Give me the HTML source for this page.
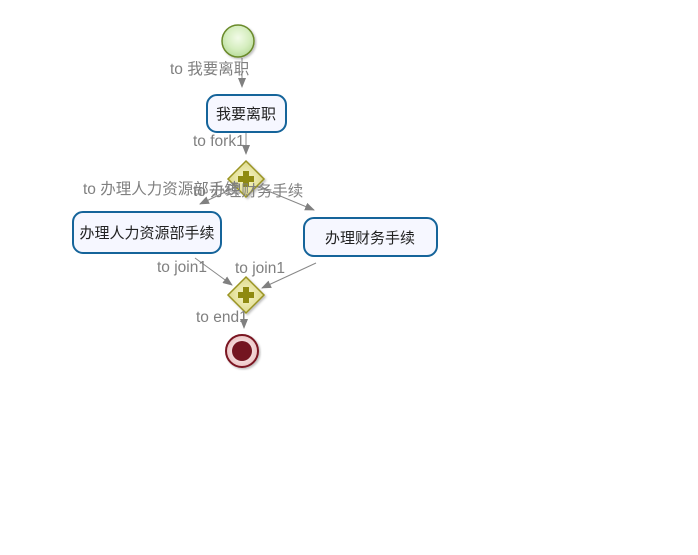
<!DOCTYPE html><html><head><meta charset="utf-8"><style>body{margin:0;background:#fff}svg{display:block}text{font-family:"Liberation Sans","Noto Sans CJK SC",sans-serif}</style></head><body>
<svg width="698" height="555" viewBox="0 0 698 555">
<defs>
<radialGradient id="gs" cx="50%" cy="40%" r="60%"><stop offset="0" stop-color="#f2fbe8"/><stop offset="0.6" stop-color="#d6eec0"/><stop offset="1" stop-color="#b9dc9c"/></radialGradient>
<radialGradient id="gd" cx="50%" cy="50%" r="60%"><stop offset="0" stop-color="#f8f6c8"/><stop offset="1" stop-color="#d8d480"/></radialGradient>
<radialGradient id="ge" cx="50%" cy="50%" r="60%"><stop offset="0" stop-color="#fff"/><stop offset="1" stop-color="#e8b8b8"/></radialGradient>
<marker id="a" markerWidth="10" markerHeight="8" refX="9" refY="4" orient="auto" markerUnits="userSpaceOnUse"><path d="M0,0 L10,4 L0,8 Z" fill="#808080"/></marker>
<filter id="sh"><feDropShadow dx="1.5" dy="1.5" stdDeviation="1" flood-color="#000" flood-opacity="0.25"/></filter>
</defs>
<g stroke="#888" stroke-width="1" fill="none" marker-end="url(#a)">
<line x1="242" y1="58" x2="242" y2="87"/>
<line x1="246" y1="132" x2="246" y2="154"/>
<line x1="238" y1="186" x2="200" y2="204"/>
<line x1="256" y1="186" x2="314" y2="210"/>
<line x1="195" y1="258" x2="232" y2="285"/>
<line x1="316" y1="263" x2="262" y2="288"/>
<line x1="244" y1="313" x2="244" y2="328"/>
</g>
<circle cx="238" cy="41" r="16" fill="url(#gs)" stroke="#6a8a2a" stroke-width="1.5" filter="url(#sh)"/>
<rect x="207" y="95" width="79" height="37" rx="10" fill="#f6f7ff" stroke="#15649a" stroke-width="2"/>
<rect x="73" y="212" width="148" height="41" rx="10" fill="#f6f7ff" stroke="#15649a" stroke-width="2"/>
<rect x="304" y="218" width="133" height="38" rx="10" fill="#f6f7ff" stroke="#15649a" stroke-width="2"/>
<g filter="url(#sh)">
<path d="M246,161 L264,179 L246,197 L228,179 Z" fill="url(#gd)" stroke="#9a9420" stroke-width="1.5"/>
<path d="M246,277 L264,295 L246,313 L228,295 Z" fill="url(#gd)" stroke="#9a9420" stroke-width="1.5"/>
</g>
<g fill="#8f8a10"><rect x="243" y="171" width="6" height="16"/><rect x="238" y="176" width="16" height="6"/><rect x="243" y="287" width="6" height="16"/><rect x="238" y="292" width="16" height="6"/></g>
<circle cx="242" cy="351" r="16" fill="url(#ge)" stroke="#7a1420" stroke-width="2" filter="url(#sh)"/>
<circle cx="242" cy="351" r="10" fill="#741520"/>
<g font-size="15" fill="#222">
<text x="246" y="119" text-anchor="middle">我要离职</text>
<text x="147" y="238" text-anchor="middle">办理人力资源部手续</text>
<text x="370" y="243" text-anchor="middle">办理财务手续</text>
</g>
<g font-size="15.5" fill="#808080">
<text x="170" y="74">to 我要离职</text>
<text x="193" y="146">to fork1</text>
<text x="83" y="194">to 办理人力资源部手续</text>
<text x="193" y="196">to 办理财务手续</text>
<text x="157" y="272">to join1</text>
<text x="235" y="273">to join1</text>
<text x="196" y="322">to end1</text>
</g>
</svg></body></html>
